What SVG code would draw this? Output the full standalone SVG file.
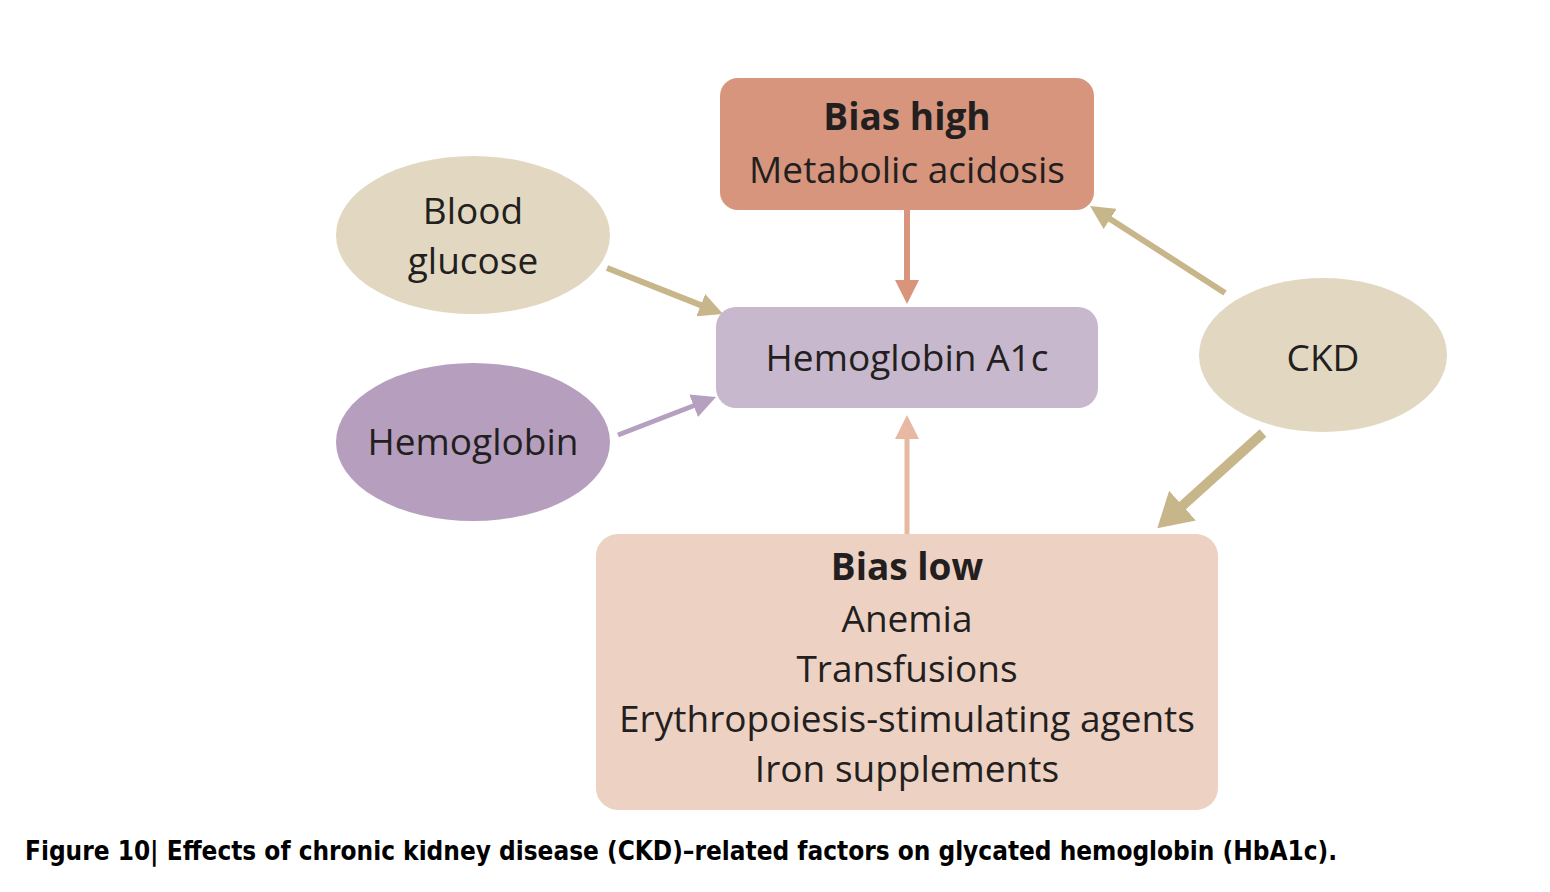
<svg xmlns="http://www.w3.org/2000/svg" width="1550" height="892" viewBox="0 0 1550 892">
<style>
.t{font-family:"Open Sans","Noto Sans",sans-serif;font-size:37px;fill:#231f20;text-anchor:middle}
.b{font-weight:bold}
.cap{font-family:"DejaVu Sans Condensed","Liberation Sans Narrow","Liberation Sans",sans-serif;font-size:27px;font-weight:bold;fill:#000}
.ln{fill:none;stroke-linecap:butt}
</style>
<defs>
<marker id="mTan" markerUnits="userSpaceOnUse" viewBox="0 0 24 24" markerWidth="24" markerHeight="24" refX="2" refY="12" orient="auto"><path d="M0,0L24,12L0,24z" fill="#c8b68b"/></marker>
<marker id="mTanBig" markerUnits="userSpaceOnUse" viewBox="0 0 34 40" markerWidth="34" markerHeight="40" refX="3" refY="20" orient="auto"><path d="M0,0L34,20L0,40z" fill="#c8b68b"/></marker>
<marker id="mPur" markerUnits="userSpaceOnUse" viewBox="0 0 24 24" markerWidth="24" markerHeight="24" refX="2" refY="12" orient="auto"><path d="M0,0L24,12L0,24z" fill="#b6a0c0"/></marker>
<marker id="mHigh" markerUnits="userSpaceOnUse" viewBox="0 0 24 24" markerWidth="24" markerHeight="24" refX="2" refY="12" orient="auto"><path d="M0,0L24,12L0,24z" fill="#d8957c"/></marker>
<marker id="mLow" markerUnits="userSpaceOnUse" viewBox="0 0 24 24" markerWidth="24" markerHeight="24" refX="2" refY="12" orient="auto"><path d="M0,0L24,12L0,24z" fill="#e8b8a2"/></marker>
</defs>
<rect width="1550" height="892" fill="#fff"/>
<g id="connectors">
<line class="ln" x1="607" y1="268" x2="702.6" y2="305.9" stroke="#c8b68b" stroke-width="6" marker-end="url(#mTan)"/>
<line class="ln" x1="618" y1="435" x2="695.5" y2="405" stroke="#b6a0c0" stroke-width="5" marker-end="url(#mPur)"/>
<line class="ln" x1="907" y1="210" x2="907" y2="282" stroke="#d8957c" stroke-width="6" marker-end="url(#mHigh)"/>
<line class="ln" x1="907" y1="534" x2="907" y2="437" stroke="#e8b8a2" stroke-width="5" marker-end="url(#mLow)"/>
<line class="ln" x1="1225" y1="293" x2="1108.5" y2="217.9" stroke="#c8b68b" stroke-width="6" marker-end="url(#mTan)"/>
<line class="ln" x1="1263" y1="433" x2="1180.3" y2="507.6" stroke="#c8b68b" stroke-width="10" marker-end="url(#mTanBig)"/>
</g>
<g id="bias-high">
<rect x="720" y="78" width="374" height="132" rx="18" fill="#d6957c"/>
<text class="t b" x="907" y="130">Bias high</text>
<text class="t" x="907" y="183">Metabolic acidosis</text>
</g>
<g id="hba1c">
<rect x="716" y="307" width="382" height="101" rx="20" fill="#c8b8cd"/>
<text class="t" x="907" y="371">Hemoglobin A1c</text>
</g>
<g id="bias-low">
<rect x="596" y="534" width="622" height="276" rx="22" fill="#edd2c4"/>
<text class="t b" x="907" y="580">Bias low</text>
<text class="t" x="907" y="632">Anemia</text>
<text class="t" x="907" y="682">Transfusions</text>
<text class="t" x="907" y="732">Erythropoiesis-stimulating agents</text>
<text class="t" x="907" y="782">Iron supplements</text>
</g>
<g id="blood-glucose">
<ellipse cx="473" cy="235" rx="137" ry="79" fill="#e2d8c1"/>
<text class="t" x="473" y="224">Blood</text>
<text class="t" x="473" y="274">glucose</text>
</g>
<g id="hemoglobin">
<ellipse cx="473" cy="442" rx="137" ry="79" fill="#b69fbe"/>
<text class="t" x="473" y="455">Hemoglobin</text>
</g>
<g id="ckd">
<ellipse cx="1323" cy="355" rx="124" ry="77" fill="#e2d8c1"/>
<text class="t" x="1323" y="371">CKD</text>
</g>
<text class="cap" x="25" y="860" textLength="1312" lengthAdjust="spacingAndGlyphs">Figure 10| Effects of chronic kidney disease (CKD)–related factors on glycated hemoglobin (HbA1c).</text>
</svg>
